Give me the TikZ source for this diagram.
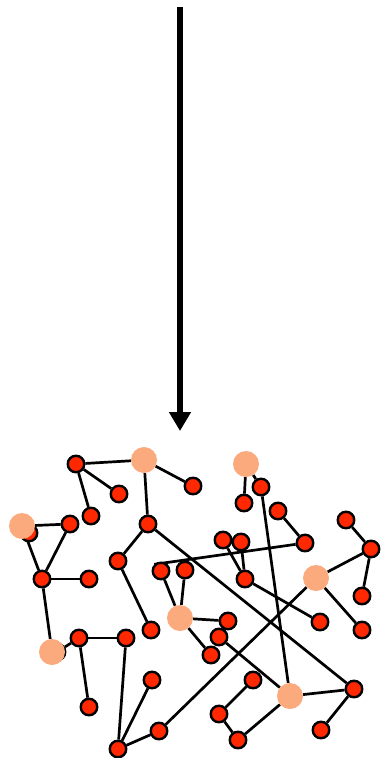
\documentclass[tikz,border=0pt]{standalone}
\usepackage{xcolor}
\usepackage{tikz}
\usetikzlibrary{arrows.meta, backgrounds}

\definecolor{dotred}{RGB}{255,40,0}
\definecolor{hubpeach}{RGB}{250,170,125}

\begin{document}
\begin{tikzpicture}[
  x=1pt, y=-1pt,
  arrow/.style={-{Triangle[length=19pt, width=21pt]}, line width=6pt},
  link/.style={line width=2.7pt},
  red_dot/.style={circle, draw=black, line width=2.4pt, fill=dotred, minimum size=16.5pt, inner sep=0pt},
  hub_dot/.style={circle, fill=hubpeach, minimum size=26pt, inner sep=0pt}
]
  \useasboundingbox (0,0) rectangle (383,758);

  % Downward arrow above the network
  \coordinate (top) at (180,7);
  \coordinate (tip) at (180,431);
  \draw[arrow] (top) -- (tip);

  % Small nodes (two of them sit under hubs)
  \node (a1) [red_dot] at (76,464) {};
  \node (a2) [red_dot] at (193,486) {};
  \node (a3) [red_dot] at (119,494) {};
  \node (a4) [red_dot] at (91,516) {};
  \node (a5) [red_dot] at (29,533) {};
  \node (a6) [red_dot] at (70,524) {};
  \node (a7) [red_dot] at (148,524) {};
  \node (a8) [red_dot] at (42,579) {};
  \node (a9) [red_dot] at (89,579) {};
  \node (a10) [red_dot] at (118,561) {};
  \node (a11) [red_dot] at (161,571) {};
  \node (a12) [red_dot] at (185,570) {};
  \node (a13) [red_dot] at (57,652) {};
  \node (a14) [red_dot] at (79,638) {};
  \node (a15) [red_dot] at (126,638) {};
  \node (a16) [red_dot] at (151,630) {};
  \node (a17) [red_dot] at (89,707) {};
  \node (a18) [red_dot] at (118,749) {};
  \node (a19) [red_dot] at (152,680) {};
  \node (a20) [red_dot] at (159,731) {};
  \node (a21) [red_dot] at (261,487) {};
  \node (a22) [red_dot] at (244,503) {};
  \node (a23) [red_dot] at (278,511) {};
  \node (a24) [red_dot] at (305,543) {};
  \node (a25) [red_dot] at (346,520) {};
  \node (a26) [red_dot] at (371,549) {};
  \node (a27) [red_dot] at (362,596) {};
  \node (a28) [red_dot] at (223,540) {};
  \node (a29) [red_dot] at (241,542) {};
  \node (a30) [red_dot] at (245,579) {};
  \node (a31) [red_dot] at (320,622) {};
  \node (a32) [red_dot] at (362,630) {};
  \node (a33) [red_dot] at (228,621) {};
  \node (a34) [red_dot] at (219,637) {};
  \node (a35) [red_dot] at (211,655) {};
  \node (a36) [red_dot] at (253,680) {};
  \node (a37) [red_dot] at (219,714) {};
  \node (a38) [red_dot] at (238,740) {};
  \node (a39) [red_dot] at (354,689) {};
  \node (a40) [red_dot] at (321,730) {};

  % Hubs
  \node (h1) [hub_dot] at (144,460) {};
  \node (h2) [hub_dot] at (22,526) {};
  \node (h3) [hub_dot] at (246,464) {};
  \node (h4) [hub_dot] at (52,652) {};
  \node (h5) [hub_dot] at (180,618) {};
  \node (h6) [hub_dot] at (316,578) {};
  \node (h7) [hub_dot] at (290,696) {};

  % Links
  \begin{scope}[on background layer]
    \draw[link] (a1) -- (h1);
    \draw[link] (a1) -- (a3);
    \draw[link] (a1) -- (a4);
    \draw[link] (h1) -- (a2);
    \draw[link] (h1) -- (a7);
    \draw[link] (h2) -- (a6);
    \draw[link] (h2) -- (a8);
    \draw[link] (a6) -- (a8);
    \draw[link] (a8) -- (a9);
    \draw[link] (a8) -- (h4);
    \draw[link] (a7) -- (a10);
    \draw[link] (a7) -- (a39);
    \draw[link] (a10) -- (a16);
    \draw[link] (a24) -- (a11.north west);
    \draw[link] (a11) -- (h5);
    \draw[link] (a12) -- (h5);
    \draw[link] (h5) -- (a33);
    \draw[link] (h5) -- (a35);
    \draw[link] (a34) -- (h7);
    \draw[link] (a13) -- (a14);
    \draw[link] (a14) -- (a15);
    \draw[link] (a14) -- (a17);
    \draw[link] (a15) -- (a18);
    \draw[link] (a19) -- (a18);
    \draw[link] (a18) -- (a20);
    \draw[link] (a20) -- (h6);
    \draw[link] (h3) -- (a22);
    \draw[link] (h3) -- (a21);
    \draw[link] (a21) -- (h7);
    \draw[link] (a23) -- (a24);
    \draw[link] (a25) -- (a26);
    \draw[link] (a26) -- (h6);
    \draw[link] (a26) -- (a27);
    \draw[link] (h6) -- (a32);
    \draw[link] (a28) -- (a30);
    \draw[link] (a29) -- (a30);
    \draw[link] (a30) -- (a31);
    \draw[link] (a36) -- (a37);
    \draw[link] (a37) -- (a38);
    \draw[link] (a38) -- (h7);
    \draw[link] (h7) -- (a39);
    \draw[link] (a39) -- (a40);
  \end{scope}

\end{tikzpicture}
\end{document}
